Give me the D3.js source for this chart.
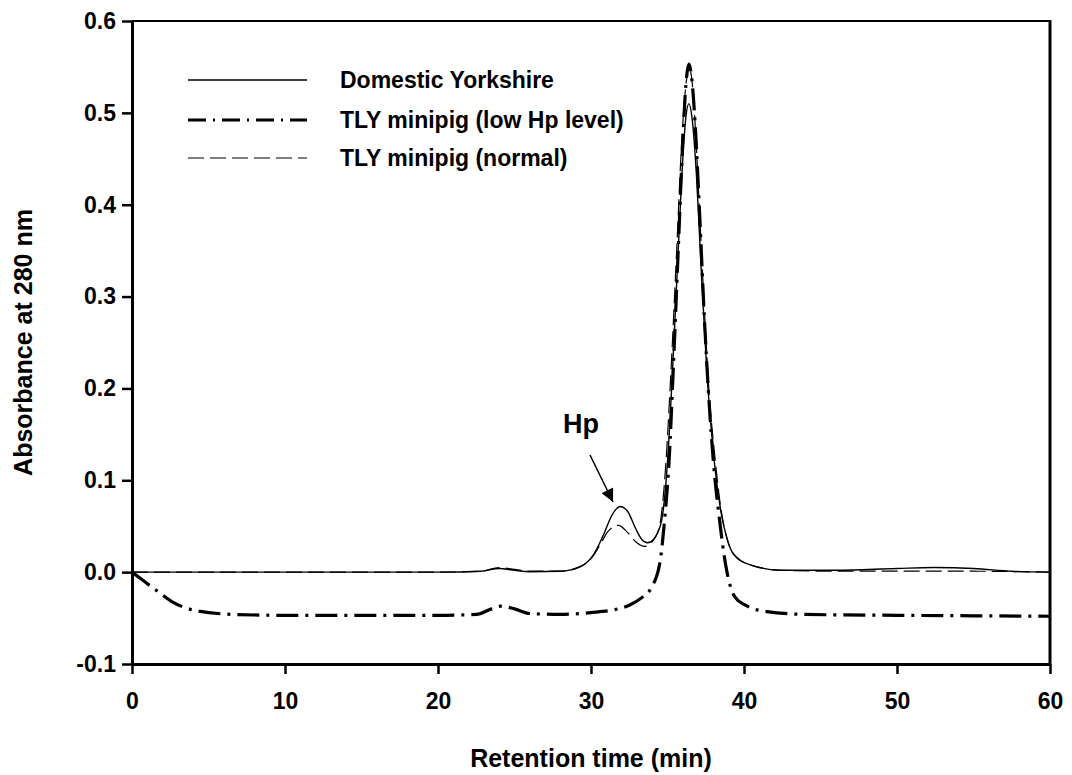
<!DOCTYPE html>
<html>
<head>
<meta charset="utf-8">
<script src="https://cdn.jsdelivr.net/npm/d3@7/dist/d3.min.js"></script>
<style>
  html, body { margin: 0; padding: 0; background: #fff; }
  svg text { font-family: "Liberation Sans", Arial, sans-serif; font-weight: bold; fill: #000; }
</style>
</head>
<body>
<svg id="chart" width="1072" height="775"></svg>
<script>
// Chromatogram traces: [retention time (min), absorbance at 280 nm]
const domesticYorkshire = [
  [0, 0], [5, 0], [10, 0], [15, 0], [20, 0], [22.8, 0.001], [24, 0.004], [25, 0.002], [26, 0.0005],
  [28, 0.001], [29.3, 0.006], [30.2, 0.02], [30.8, 0.04], [31.4, 0.063], [31.9, 0.0715],
  [32.4, 0.066], [32.9, 0.048], [33.3, 0.036], [33.7, 0.032], [34.1, 0.036], [34.6, 0.055],
  [35.0, 0.12], [35.3, 0.21], [35.7, 0.35], [36.0, 0.45], [36.2, 0.495], [36.4, 0.51],
  [36.6, 0.495], [36.9, 0.43], [37.2, 0.33], [37.6, 0.21], [38.0, 0.13], [38.5, 0.065],
  [38.9, 0.036], [39.3, 0.02], [40.4, 0.008], [42.5, 0.002], [46, 0.002], [50, 0.004],
  [52.4, 0.005], [55, 0.004], [57.5, 0.001], [60, 0]
];

const tlyLowHp = [
  [0, 0], [0.8, -0.01], [1.6, -0.02], [2.6, -0.032], [4.2, -0.042], [6.6, -0.046], [10, -0.047],
  [15, -0.047], [20, -0.047], [22.5, -0.046], [23.5, -0.04], [24.1, -0.037], [25, -0.04],
  [26, -0.045], [28, -0.046], [30, -0.044], [31.5, -0.041], [32.5, -0.036], [33.3, -0.028],
  [33.9, -0.018], [34.5, 0.01], [34.8, 0.055], [35.1, 0.12], [35.4, 0.23], [35.7, 0.35],
  [36.0, 0.47], [36.2, 0.53], [36.4, 0.553], [36.6, 0.535], [36.8, 0.49], [37.1, 0.39],
  [37.4, 0.28], [37.7, 0.19], [38.0, 0.12], [38.4, 0.057], [38.8, 0.008], [39.4, -0.027],
  [40.1, -0.036], [41.5, -0.043], [44, -0.046], [50, -0.047], [55, -0.0475], [60, -0.048]
];

const tlyNormal = [
  [0, 0], [5, 0], [10, 0], [15, 0], [20, 0], [22.8, 0.001], [24, 0.005], [25, 0.003], [26, 0.001],
  [28, 0.001], [29.3, 0.006], [30.2, 0.019], [30.7, 0.033], [31.1, 0.044], [31.8, 0.051],
  [32.4, 0.043], [33.0, 0.032], [33.5, 0.028], [34.0, 0.033], [34.5, 0.052], [34.9, 0.12],
  [35.2, 0.21], [35.6, 0.35], [35.9, 0.46], [36.2, 0.53], [36.4, 0.55], [36.6, 0.535],
  [36.8, 0.49], [37.1, 0.39], [37.4, 0.29], [37.7, 0.2], [38.1, 0.125], [38.5, 0.068],
  [38.9, 0.036], [39.3, 0.02], [40.4, 0.008], [42.5, 0.002], [46, 0.001], [50, 0.001],
  [55, 0.001], [60, 0]
];

const seriesNames = ["Domestic Yorkshire", "TLY minipig (low Hp level)", "TLY minipig (normal)"];
const xTicks = [0, 10, 20, 30, 40, 50, 60];
const yTicks = [-0.1, 0.0, 0.1, 0.2, 0.3, 0.4, 0.5, 0.6];

const svg = d3.select("#chart");
const plot = { left: 132, right: 1050, top: 21, bottom: 664 };

const x = d3.scaleLinear().domain([0, 60]).range([plot.left, plot.right]);
const y = d3.scaleLinear().domain([-0.1, 0.6]).range([plot.bottom, plot.top]);

const line = d3.line()
  .x(d => x(d[0]))
  .y(d => y(d[1]))
  .curve(d3.curveMonotoneX);

const styles = [
  { data: domesticYorkshire, width: 1.4, dash: null, legendDash: null },
  { data: tlyLowHp, width: 3.2, dash: "22,7,3,7", legendDash: "18,7,2,7" },
  { data: tlyNormal, width: 1.2, dash: "16,6", legendDash: "16,6" }
];

// Traces
const traces = svg.append("g");
styles.forEach(s => {
  traces.append("path")
    .datum(s.data)
    .attr("d", line)
    .attr("fill", "none")
    .attr("stroke", "#000")
    .attr("stroke-width", s.width)
    .attr("stroke-linejoin", "round")
    .attr("stroke-dasharray", s.dash);
});

// Frame around the plot area
svg.append("line").attr("x1", plot.left).attr("x2", plot.right).attr("y1", plot.top).attr("y2", plot.top)
  .attr("stroke", "#000").attr("stroke-width", 2);
svg.append("line").attr("x1", plot.right).attr("x2", plot.right).attr("y1", plot.top - 1).attr("y2", plot.bottom)
  .attr("stroke", "#000").attr("stroke-width", 3);

// Axes
const xAxis = d3.axisBottom(x).tickValues(xTicks).tickSize(10).tickSizeOuter(0).tickPadding(19)
  .tickFormat(d => String(d));
const yAxis = d3.axisLeft(y).tickValues(yTicks).tickSize(10).tickSizeOuter(0).tickPadding(6)
  .tickFormat(d => d.toFixed(1));

const gx = svg.append("g").attr("transform", `translate(0,${plot.bottom})`).call(xAxis);
const gy = svg.append("g").attr("transform", `translate(${plot.left},0)`).call(yAxis);

[gx, gy].forEach(g => {
  g.attr("font-size", null).attr("font-family", null);
  g.select(".domain").attr("stroke", "#000").attr("stroke-width", 3);
  g.selectAll(".tick line").attr("stroke", "#000").attr("stroke-width", 2.5);
  g.selectAll(".tick text")
    .style("font-family", "'Liberation Sans', Arial, sans-serif")
    .style("font-weight", "bold")
    .style("font-size", "23px")
    .attr("fill", "#000");
});

// Axis titles
svg.append("text")
  .attr("x", (plot.left + plot.right) / 2)
  .attr("y", 767)
  .attr("text-anchor", "middle")
  .style("font-size", "25px")
  .text("Retention time (min)");

svg.append("text")
  .attr("transform", `translate(32,${(plot.top + plot.bottom) / 2}) rotate(-90)`)
  .attr("text-anchor", "middle")
  .style("font-size", "25px")
  .text("Absorbance at 280 nm");

// Legend
const legend = svg.append("g");
const legendRows = [80, 120, 158];
styles.forEach((s, i) => {
  legend.append("line")
    .attr("x1", 188).attr("x2", 307)
    .attr("y1", legendRows[i]).attr("y2", legendRows[i])
    .attr("stroke", "#000")
    .attr("stroke-width", s.width)
    .attr("stroke-dasharray", s.legendDash);
  legend.append("text")
    .attr("x", 340)
    .attr("y", legendRows[i])
    .attr("dy", "0.36em")
    .style("font-size", "23px")
    .text(seriesNames[i]);
});

// Hp peak annotation
svg.append("text")
  .attr("x", 581)
  .attr("y", 433)
  .attr("text-anchor", "middle")
  .style("font-size", "27px")
  .text("Hp");

svg.append("defs").append("marker")
  .attr("id", "arrowhead")
  .attr("viewBox", "0 0 10 10")
  .attr("refX", 10).attr("refY", 5)
  .attr("markerWidth", 14).attr("markerHeight", 13)
  .attr("markerUnits", "userSpaceOnUse")
  .attr("orient", "auto")
  .append("path").attr("d", "M0,0 L10,5 L0,10 Z").attr("fill", "#000");

svg.append("line")
  .attr("x1", 590).attr("y1", 455)
  .attr("x2", 613).attr("y2", 502)
  .attr("stroke", "#000").attr("stroke-width", 1.5)
  .attr("marker-end", "url(#arrowhead)");
</script>
</body>
</html>
